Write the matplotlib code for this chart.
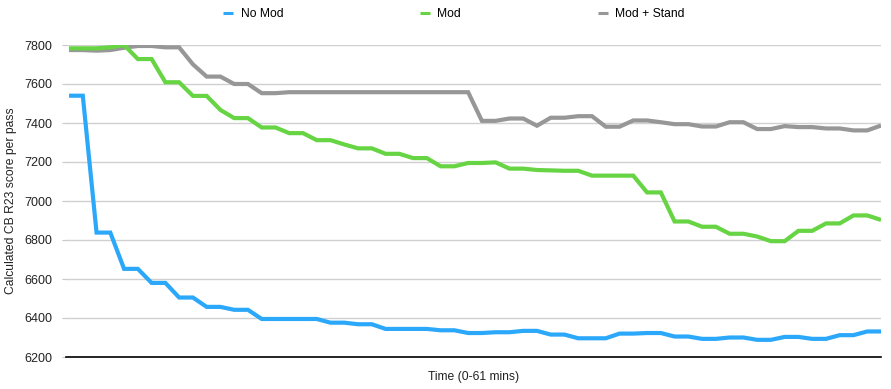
import numpy as np
import matplotlib
matplotlib.use("Agg")
import matplotlib.pyplot as plt

plt.rcParams['font.family'] = ['Liberation Sans', 'DejaVu Sans']

# one reading per minute
no_mod = [7540, 7540, 6838, 6838, 6652, 6652, 6580, 6580, 6505, 6505,
          6457, 6457, 6442, 6442, 6395, 6395, 6395, 6395, 6395, 6376,
          6376, 6368, 6368, 6344, 6344, 6344, 6344, 6337, 6337, 6323,
          6323, 6327, 6327, 6334, 6334, 6315, 6315, 6296, 6296, 6296,
          6320, 6320, 6323, 6323, 6305, 6305, 6293, 6293, 6300, 6300,
          6288, 6288, 6303, 6303, 6293, 6293, 6312, 6312, 6331, 6331]
mod = [7783, 7783, 7783, 7788, 7800, 7728, 7728, 7609, 7609, 7539,
       7539, 7467, 7425, 7425, 7377, 7377, 7348, 7348, 7312, 7312,
       7290, 7270, 7270, 7242, 7242, 7220, 7220, 7178, 7178, 7195,
       7195, 7198, 7166, 7166, 7159, 7157, 7155, 7155, 7130, 7130,
       7130, 7130, 7044, 7044, 6895, 6895, 6868, 6868, 6832, 6832,
       6818, 6794, 6794, 6847, 6847, 6885, 6885, 6926, 6926, 6903]
mod_stand = [7774, 7774, 7771, 7774, 7786, 7795, 7795, 7788, 7788, 7701,
             7638, 7638, 7600, 7600, 7553, 7553, 7558, 7558, 7558, 7558,
             7558, 7558, 7558, 7558, 7558, 7558, 7558, 7558, 7558, 7558,
             7411, 7411, 7423, 7423, 7386, 7427, 7427, 7435, 7435, 7381,
             7381, 7413, 7413, 7404, 7394, 7394, 7382, 7382, 7404, 7404,
             7369, 7369, 7384, 7379, 7379, 7372, 7372, 7362, 7362, 7387]
series_names = ['No Mod', 'Mod', 'Mod + Stand']
colors = ['#2ca8fb', '#66d443', '#979797']
yticks = [6200, 6400, 6600, 6800, 7000, 7200, 7400, 7600, 7800]

fig = plt.figure(figsize=(8.91, 3.89), dpi=100)
ax = fig.add_axes([66 / 891, 1 - 357 / 389, 815 / 891, 312 / 389])

x = np.arange(len(no_mod))
zorders = [3, 3, 2]
for vals, name, c, z in zip([no_mod, mod, mod_stand], series_names, colors, zorders):
    ax.plot(x, vals, color=c, lw=3.0, label=name, zorder=z,
            solid_joinstyle='miter', solid_capstyle='butt')

ax.set_xlim(-0.22, len(no_mod) - 1)
ax.set_ylim(6200, 7800)
ax.set_yticks(yticks)
ax.set_xticks([])
ax.yaxis.grid(True, color='#d0d0d0', lw=1)
ax.set_axisbelow(True)
for s in ['top', 'right', 'left']:
    ax.spines[s].set_visible(False)
ax.spines['bottom'].set_color('black')
ax.spines['bottom'].set_linewidth(1.2)
ax.tick_params(axis='y', length=3, width=0.8, color='#c8c8c8', pad=7,
               labelsize=9, labelcolor='#222222')

ax.set_ylabel('Calculated CB R23 score per pass', fontsize=8.7, color='#222222', labelpad=5)
ax.set_xlabel('Time (0-61 mins)', fontsize=8.7, color='#222222', labelpad=10)

leg = ax.legend(loc='center', bbox_to_anchor=(0.476, 1.1), ncol=3, frameon=False,
                fontsize=8.7, handlelength=0.85, handletextpad=0.6, columnspacing=11.3)
for h in leg.legend_handles:
    h.set_linewidth(2.2)

fig.savefig('out.png', dpi=100)
